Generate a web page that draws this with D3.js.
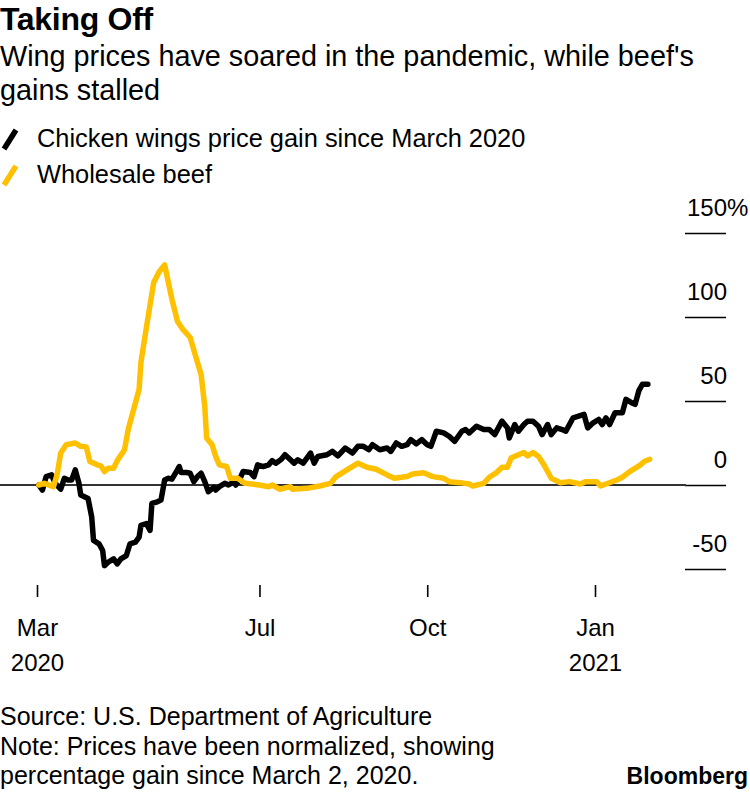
<!DOCTYPE html>
<html>
<head>
<meta charset="utf-8">
<script src="https://cdn.jsdelivr.net/npm/d3@7"></script>
<style>
  html, body { margin: 0; padding: 0; background: #fff; }
  svg { display: block; font-family: "Liberation Sans", Arial, Helvetica, sans-serif; }
</style>
</head>
<body>
<svg id="chart" width="750" height="792"></svg>
<script>
// ---- Data (days after 2020-03-01, percent gain since March 2, 2020) ----
const chickenDays = [1,3,5,8,10,13,15,17,19,21,23,24,28,30,31,34,36,37,39,42,44,46,49,51,54,56,57,60,62,63,66,68,70,72,74,77,78,79,82,84,86,88,90,92,94,97,98,100,103,105,108,109,111,113,117,119,121,124,127,129,131,134,136,139,141,143,146,150,152,154,159,162,165,169,173,176,179,182,184,188,192,194,197,200,203,205,208,211,214,216,219,223,226,229,233,235,237,241,245,248,251,255,258,259,262,264,267,269,272,275,277,280,282,285,288,290,294,297,300,302,305,308,310,312,314,317,320,321,323,326,328,330,332,335];
const chickenValues = [0,-3,5,6,1,-2.5,4,3,3,9,1,-6,-8,-19,-33,-35,-39,-48,-46,-44,-47,-44,-42,-35,-34,-31,-24,-23,-27,-11,-10,-9,3,4,3.5,9,11,7.4,7.4,7,2,5,7,2,-4,-1.4,-3,-1,1,0,2,0,3,8,7.4,5,12,11,12,14.5,13,15.3,18,15,13,15,13,19,13,17,18,20,17.3,22,19,23,23,21,24,21,22,20,25,23,24,27,24.5,27,24,23,32,31,29,26,32,33,31,35,33,33,30,38,34,28,36,32,36,38,38,35,30,36,30,34,33,32,40,41,42,34,37,39,36,40,36,43,43,43,51,49,48,56,60,60];

const beefDays = [1,4,9,11,13,16,21,24,27,29,33,35,37,39,42,44,48,50,54,56,57,59,61,64,67,70,74,77,80,84,87,90,92,93,96,98,100,104,106,110,114,122,127,129,133,139,140,148,155,161,164,170,176,181,186,192,196,203,206,212,217,223,226,232,237,239,245,248,252,255,258,260,264,267,269,272,275,278,280,282,287,292,298,301,307,309,312,318,321,325,331,333,336];
const beefValues = [0,1,-1,6,19,24,25,23,22.7,14,12,11.4,8,10,10,14.5,21,33,49,57,73,87,100.5,120.6,127,131,110.5,97.5,92.6,87.8,76.6,65.7,46.8,28,24,17,12,11,4,4,1,0,-1,0,-2.5,-1,-2.5,-2,-0.6,1,5,9,13,10.6,9.4,6,4,5,6.5,7.3,5,4,2,1.4,0.6,-0.6,1,4.6,7.4,10.6,10.6,16,18,19.3,17.3,19.3,17,12,8,4,1.4,2,0.6,2,2,-0.6,0.6,3,4.6,8,12,14,15.3];

const seriesNames = ["Chicken wings price gain since March 2020", "Wholesale beef"];
const seriesColors = ["#000000", "#FFC000"];

const yTicks = [-50, 0, 50, 100, 150];
const yTickLabels = ["-50", "0", "50", "100", "150"];
const xTickDates = ["2020-03-01", "2020-07-01", "2020-10-01", "2021-01-01"];
const xTickMonths = ["Mar", "Jul", "Oct", "Jan"];
const xTickYears = ["2020", "", "", "2021"];

const titleText = "Taking Off";
const subtitleLines = ["Wing prices have soared in the pandemic, while beef's", "gains stalled"];
const footerLines = ["Source: U.S. Department of Agriculture", "Note: Prices have been normalized, showing", "percentage gain since March 2, 2020."];

// ---- Drawing ----
const svg = d3.select("#chart");
const parse = d3.utcParse("%Y-%m-%d");
const origin = parse("2020-03-01");
const dayToDate = d => d3.utcDay.offset(origin, d);

const x = d3.scaleUtc()
  .domain([parse("2020-03-01"), parse("2021-01-01")])
  .range([37, 595]);
const y = d3.scaleLinear().domain([-50, 150]).range([569, 233]);

svg.append("rect").attr("width", 750).attr("height", 792).attr("fill", "#fff");

// Title & subtitle
svg.append("text").attr("x", 0).attr("y", 30)
  .attr("font-size", 32).attr("font-weight", "bold").attr("fill", "#000")
  .attr("letter-spacing", -0.3)
  .text(titleText);
subtitleLines.forEach((t, i) => {
  svg.append("text").attr("x", 0).attr("y", 66 + i * 34)
    .attr("font-size", 28.8).attr("fill", "#000").text(t);
});

// Legend
seriesNames.forEach((name, i) => {
  const yy = 147 + i * 36;
  svg.append("line")
    .attr("x1", 4).attr("y1", yy + 2).attr("x2", 16).attr("y2", yy - 17)
    .attr("stroke", seriesColors[i]).attr("stroke-width", 5.5);
  svg.append("text").attr("x", 37).attr("y", yy)
    .attr("font-size", 25.4).attr("fill", "#000").text(name);
});

// Y axis (right side, labels above tick lines)
const yAxis = d3.axisLeft(y).tickValues(yTicks).tickSize(41).tickPadding(0)
  .tickFormat((d, i) => yTickLabels[i]);
const gy = svg.append("g").attr("transform", "translate(726,0)").call(yAxis);
gy.select(".domain").remove();
gy.selectAll(".tick line").attr("stroke", "#000").attr("stroke-width", 1.6);
gy.selectAll(".tick text")
  .attr("x", 1).attr("dy", 0).attr("y", -18)
  .attr("text-anchor", "end")
  .attr("font-size", 24).attr("font-family", null).attr("fill", "#000");
gy.selectAll(".tick").filter(d => d === 150)
  .append("text").attr("x", 1).attr("y", -18)
  .attr("text-anchor", "start").attr("font-size", 24).attr("fill", "#000")
  .text("%");

// Zero baseline
svg.append("line")
  .attr("x1", 0).attr("x2", 686).attr("y1", y(0)).attr("y2", y(0))
  .attr("stroke", "#333").attr("stroke-width", 2);

// X axis
const xAxis = d3.axisBottom(x).tickValues(xTickDates.map(parse)).tickSize(12)
  .tickFormat((d, i) => xTickMonths[i]);
const gx = svg.append("g").attr("transform", "translate(0,585)").call(xAxis);
gx.select(".domain").remove();
gx.selectAll(".tick line").attr("stroke", "#000").attr("stroke-width", 1.6);
gx.selectAll(".tick text")
  .attr("y", 51).attr("dy", 0)
  .attr("font-size", 24).attr("font-family", null).attr("fill", "#000");
gx.selectAll(".tick").each(function(d, i) {
  if (xTickYears[i]) {
    d3.select(this).append("text").attr("y", 86).attr("text-anchor", "middle")
      .attr("font-size", 24).attr("fill", "#000").text(xTickYears[i]);
  }
});

// Lines
const line = d3.line().x(d => x(dayToDate(d[0]))).y(d => y(d[1]));
const chicken = chickenDays.map((d, i) => [d, chickenValues[i]]);
const beef = beefDays.map((d, i) => [d, beefValues[i]]);
[chicken, beef].forEach((data, i) => {
  svg.append("path").datum(data)
    .attr("d", line).attr("fill", "none")
    .attr("stroke", seriesColors[i]).attr("stroke-width", 5.5)
    .attr("stroke-linejoin", "round").attr("stroke-linecap", "round");
});

// Footer
footerLines.forEach((t, i) => {
  svg.append("text").attr("x", 0).attr("y", 725 + i * 29.5)
    .attr("font-size", 25).attr("fill", "#000").text(t);
});
svg.append("text").attr("x", 748).attr("y", 784).attr("text-anchor", "end")
  .attr("font-size", 23).attr("font-weight", "bold")
  .attr("fill", "#000").text("Bloomberg");
</script>
</body>
</html>
